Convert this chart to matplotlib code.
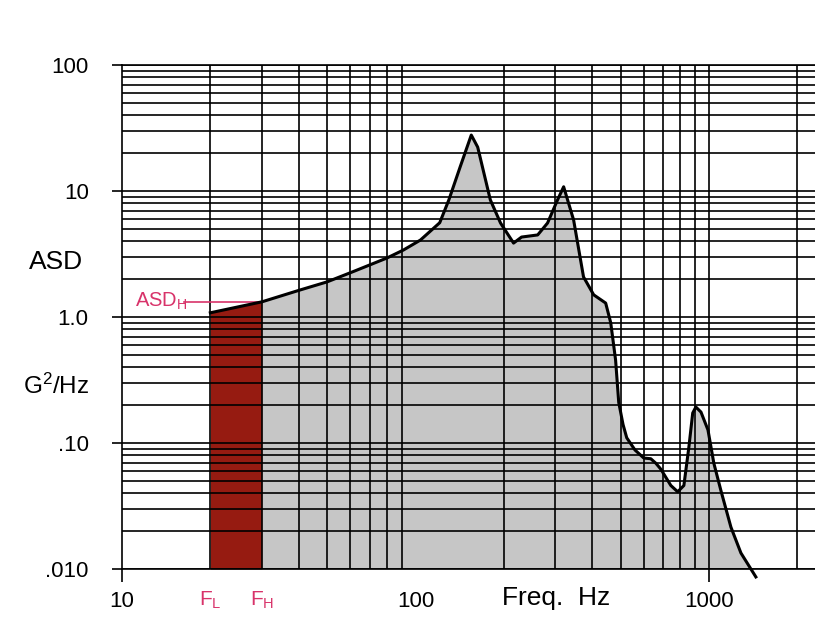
import numpy as np
import matplotlib
matplotlib.use("Agg")
from matplotlib import pyplot as plt
from matplotlib.ticker import FixedLocator, FixedFormatter, NullFormatter
import matplotlib.transforms as mtransforms

plt.rcParams['font.family'] = ['Liberation Sans', 'DejaVu Sans']
plt.rcParams['mathtext.fontset'] = 'custom'
plt.rcParams['mathtext.rm'] = 'Liberation Sans'
plt.rcParams['mathtext.it'] = 'Liberation Sans'

# spectrum (Hz, G^2/Hz)
freq = [20, 30, 40.5, 50, 61, 80, 91, 104, 121, 130, 142, 155, 163, 180, 195,
        216, 230, 261, 282, 305, 320, 346, 374, 405, 445, 463, 481, 493, 510,
        525, 560, 600, 634, 660, 686, 742, 783, 822, 855, 881, 903, 940, 993,
        1040, 1099, 1189, 1286, 1446]
asd = [1.08, 1.32, 1.64, 1.90, 2.28, 2.94, 3.40, 4.08, 5.6, 8.5, 15.5, 27.8,
       22.3, 8.5, 5.57, 3.86, 4.31, 4.48, 5.57, 8.5, 10.8, 5.89, 2.08, 1.50,
       1.29, 0.90, 0.456, 0.21, 0.14, 0.11, 0.088, 0.076, 0.075, 0.069, 0.062,
       0.046, 0.041, 0.046, 0.093, 0.173, 0.193, 0.176, 0.127, 0.069, 0.042,
       0.0215, 0.0134, 0.00865]

f_low, f_high = 20, 30
y_ticks = [0.01, 0.1, 1, 10, 100]
y_labels = ['.010', '.10', '1.0', '10', '100']
x_ticks = [10, 100, 1000]
x_labels = ['10', '100', '1000']

pink = '#d8336a'

fig = plt.figure(figsize=(8.15, 6.3), dpi=100)
ax = fig.add_axes([122 / 815, 61 / 630, 693 / 815, 504 / 630])
ax.set_xscale('log')
ax.set_yscale('log')
ax.set_xlim(10, 2300)
ax.set_ylim(0.01, 100)

f = np.array(freq)
a = np.array(asd)
band = f <= f_high
ax.fill_between(f[band], a[band], 0.01, color='#961b11', lw=0, zorder=1)
ax.fill_between(f[f >= f_high], a[f >= f_high], 0.01, color='#c6c6c6', lw=0, zorder=1)
ax.plot(f, a, color='black', lw=2.2, zorder=3, clip_on=False, solid_joinstyle='round')

# grid: all log lines except the vertical one at 100 Hz
ax.set_axisbelow(False)
ax.yaxis.grid(True, which='both', color='black', lw=1.2)
ax.xaxis.grid(True, which='minor', color='black', lw=1.2)
ax.axvline(1000, color='black', lw=1.2, zorder=2.5)

ax.yaxis.set_major_locator(FixedLocator(y_ticks))
ax.yaxis.set_major_formatter(FixedFormatter(y_labels))
ax.yaxis.set_minor_formatter(NullFormatter())
ax.xaxis.set_major_locator(FixedLocator(x_ticks))
ax.xaxis.set_major_formatter(FixedFormatter(x_labels))
ax.xaxis.set_minor_formatter(NullFormatter())
ax.tick_params(which='minor', length=0)
ax.tick_params(axis='y', which='major', length=7, width=1.2, pad=17, labelsize=16)
ax.tick_params(axis='x', which='major', length=9, width=1.2, pad=7, labelsize=16)
ax.xaxis.get_major_ticks()[1].tick1line.set_visible(False)

for side in ['left', 'bottom', 'top']:
    ax.spines[side].set_color('black')
    ax.spines[side].set_linewidth(1.2)
ax.spines['right'].set_visible(False)

trans = mtransforms.blended_transform_factory(ax.transData, ax.transAxes)
ax.text(f_low, -0.062, r'F$_\mathrm{L}$', color=pink, fontsize=15,
        ha='center', va='center', transform=trans)
ax.text(f_high, -0.062, r'F$_\mathrm{H}$', color=pink, fontsize=15,
        ha='center', va='center', transform=trans)

# ASD_H marker line
ax.plot([16.3, f_high], [asd[1], asd[1]], color=pink, lw=1.2, zorder=2.6)
ax.text(11.05, asd[1], r'ASD$_\mathrm{H}$', color=pink, fontsize=14.5,
        ha='left', va='center', zorder=4)

fig.text(56 / 815, 1 - 262 / 630, 'ASD', fontsize=19, ha='center', va='center')
fig.text(56 / 815, 1 - 386 / 630, r'G$^2$/Hz', fontsize=17.5, ha='center', va='center')
fig.text(556 / 815, 1 - 598 / 630, 'Freq.  Hz', fontsize=19, ha='center', va='center')

fig.savefig('out.png', dpi=100, facecolor='white')
